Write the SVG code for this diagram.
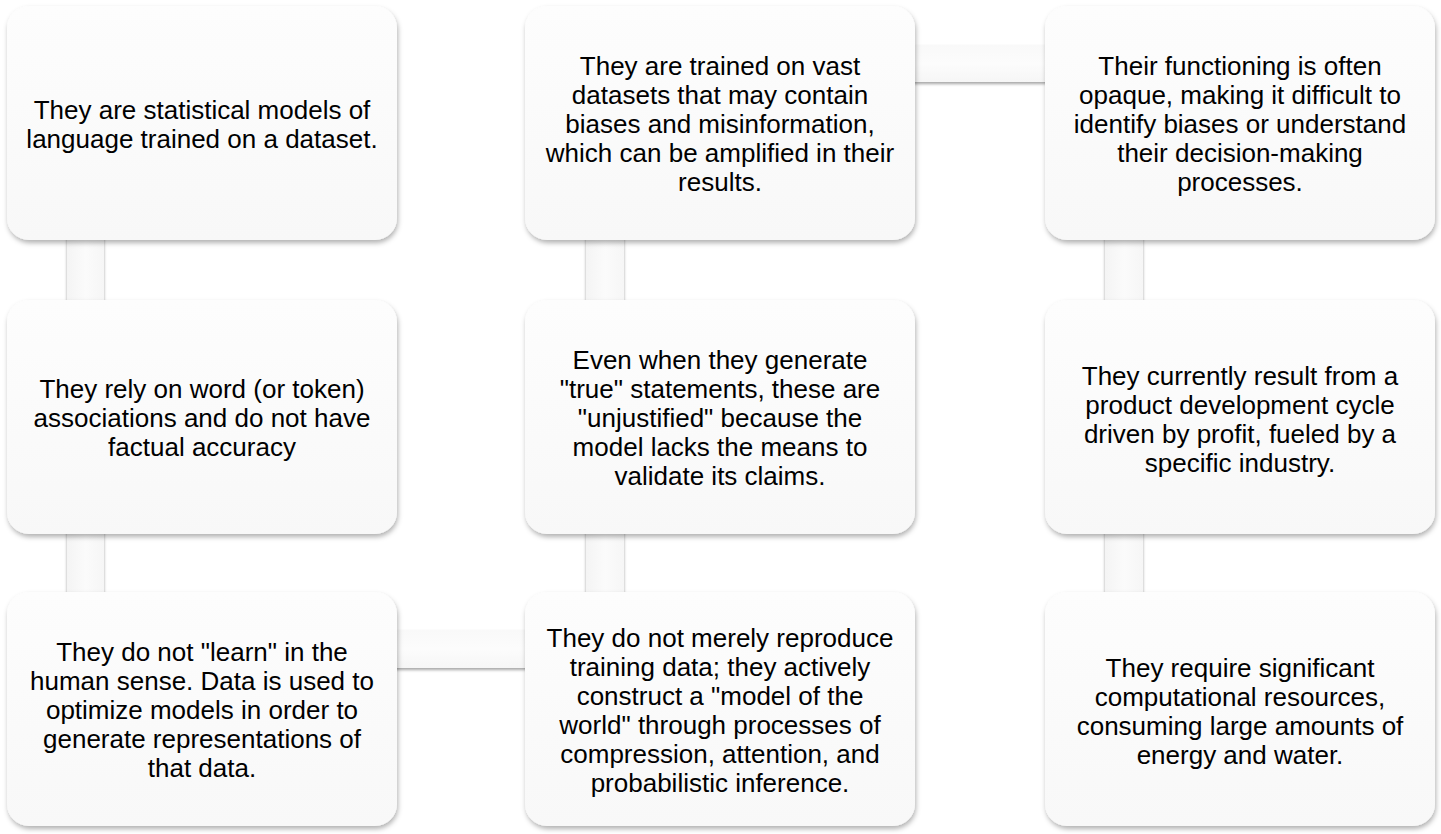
<svg xmlns="http://www.w3.org/2000/svg" width="1441" height="834" viewBox="0 0 1441 834">
<defs>
<linearGradient id="boxGrad" x1="0" y1="0" x2="0" y2="1">
<stop offset="0" stop-color="#fdfdfd"/>
<stop offset="1" stop-color="#f8f8f8"/>
</linearGradient>
<linearGradient id="vbarGrad" x1="0" y1="0" x2="1" y2="0">
<stop offset="0" stop-color="#f4f4f4"/>
<stop offset="0.5" stop-color="#fbfbfb"/>
<stop offset="1" stop-color="#f6f6f6"/>
</linearGradient>
<linearGradient id="hbarGrad" x1="0" y1="0" x2="0" y2="1">
<stop offset="0" stop-color="#f9f9f9"/>
<stop offset="0.5" stop-color="#fcfcfc"/>
<stop offset="1" stop-color="#f6f6f6"/>
</linearGradient>
<filter id="shadow" x="-10%" y="-10%" width="120%" height="125%">
<feDropShadow dx="1" dy="3" stdDeviation="2.5" flood-color="#000" flood-opacity="0.3"/>
</filter>
<filter id="vbarShadow" x="-30%" y="-10%" width="160%" height="120%">
<feDropShadow dx="0" dy="0" stdDeviation="1.4" flood-color="#000" flood-opacity="0.35"/>
</filter>
<filter id="hbarShadow" x="-10%" y="-20%" width="120%" height="160%">
<feDropShadow dx="0" dy="2" stdDeviation="1.5" flood-color="#000" flood-opacity="0.35"/>
</filter>
</defs>
<style>
.box { fill: url(#boxGrad); filter: url(#shadow); }
.vbar { fill: url(#vbarGrad); filter: url(#vbarShadow); }
.hbar { fill: url(#hbarGrad); filter: url(#hbarShadow); }
.lbl { font-family: "Liberation Sans", Arial, sans-serif; font-size: 26px; fill: #000; text-anchor: middle; }
</style>
<rect x="0" y="0" width="1441" height="834" fill="#ffffff"/>

<g id="connectors">
<rect class="vbar" x="67" y="200" width="37" height="140"/>
<rect class="vbar" x="67" y="494" width="37" height="138"/>
<rect class="hbar" x="360" y="630" width="200" height="38"/>
<rect class="vbar" x="586" y="494" width="38" height="138"/>
<rect class="vbar" x="586" y="200" width="38" height="140"/>
<rect class="hbar" x="880" y="45" width="200" height="37"/>
<rect class="vbar" x="1105" y="200" width="38" height="140"/>
<rect class="vbar" x="1105" y="494" width="38" height="138"/>
</g>

<g id="node1">
<rect class="box" x="7" y="6" width="390" height="234" rx="22"/>
<text class="lbl" y="118.5"><tspan x="202">They are statistical models of</tspan><tspan x="202" dy="29">language trained on a dataset.</tspan></text>
</g>

<g id="node2">
<rect class="box" x="525" y="6" width="390" height="234" rx="22"/>
<text class="lbl" y="75"><tspan x="720">They are trained on vast</tspan><tspan x="720" dy="29">datasets that may contain</tspan><tspan x="720" dy="29">biases and misinformation,</tspan><tspan x="720" dy="29">which can be amplified in their</tspan><tspan x="720" dy="29">results.</tspan></text>
</g>

<g id="node3">
<rect class="box" x="1045" y="6" width="390" height="234" rx="22"/>
<text class="lbl" y="75"><tspan x="1240">Their functioning is often</tspan><tspan x="1240" dy="29">opaque, making it difficult to</tspan><tspan x="1240" dy="29">identify biases or understand</tspan><tspan x="1240" dy="29">their decision-making</tspan><tspan x="1240" dy="29">processes.</tspan></text>
</g>

<g id="node4">
<rect class="box" x="7" y="300" width="390" height="234" rx="22"/>
<text class="lbl" y="398"><tspan x="202">They rely on word (or token)</tspan><tspan x="202" dy="29">associations and do not have</tspan><tspan x="202" dy="29">factual accuracy</tspan></text>
</g>

<g id="node5">
<rect class="box" x="525" y="300" width="390" height="234" rx="22"/>
<text class="lbl" y="369"><tspan x="720">Even when they generate</tspan><tspan x="720" dy="29">"true" statements, these are</tspan><tspan x="720" dy="29">"unjustified" because the</tspan><tspan x="720" dy="29">model lacks the means to</tspan><tspan x="720" dy="29">validate its claims.</tspan></text>
</g>

<g id="node6">
<rect class="box" x="1045" y="300" width="390" height="234" rx="22"/>
<text class="lbl" y="385"><tspan x="1240">They currently result from a</tspan><tspan x="1240" dy="29">product development cycle</tspan><tspan x="1240" dy="29">driven by profit, fueled by a</tspan><tspan x="1240" dy="29">specific industry.</tspan></text>
</g>

<g id="node7">
<rect class="box" x="7" y="592" width="390" height="234" rx="22"/>
<text class="lbl" y="661"><tspan x="202">They do not "learn" in the</tspan><tspan x="202" dy="29">human sense. Data is used to</tspan><tspan x="202" dy="29">optimize models in order to</tspan><tspan x="202" dy="29">generate representations of</tspan><tspan x="202" dy="29">that data.</tspan></text>
</g>

<g id="node8">
<rect class="box" x="525" y="592" width="390" height="234" rx="22"/>
<text class="lbl" y="647"><tspan x="720">They do not merely reproduce</tspan><tspan x="720" dy="29">training data; they actively</tspan><tspan x="720" dy="29">construct a "model of the</tspan><tspan x="720" dy="29">world" through processes of</tspan><tspan x="720" dy="29">compression, attention, and</tspan><tspan x="720" dy="29">probabilistic inference.</tspan></text>
</g>

<g id="node9">
<rect class="box" x="1045" y="592" width="390" height="234" rx="22"/>
<text class="lbl" y="677"><tspan x="1240">They require significant</tspan><tspan x="1240" dy="29">computational resources,</tspan><tspan x="1240" dy="29">consuming large amounts of</tspan><tspan x="1240" dy="29">energy and water.</tspan></text>
</g>
</svg>
